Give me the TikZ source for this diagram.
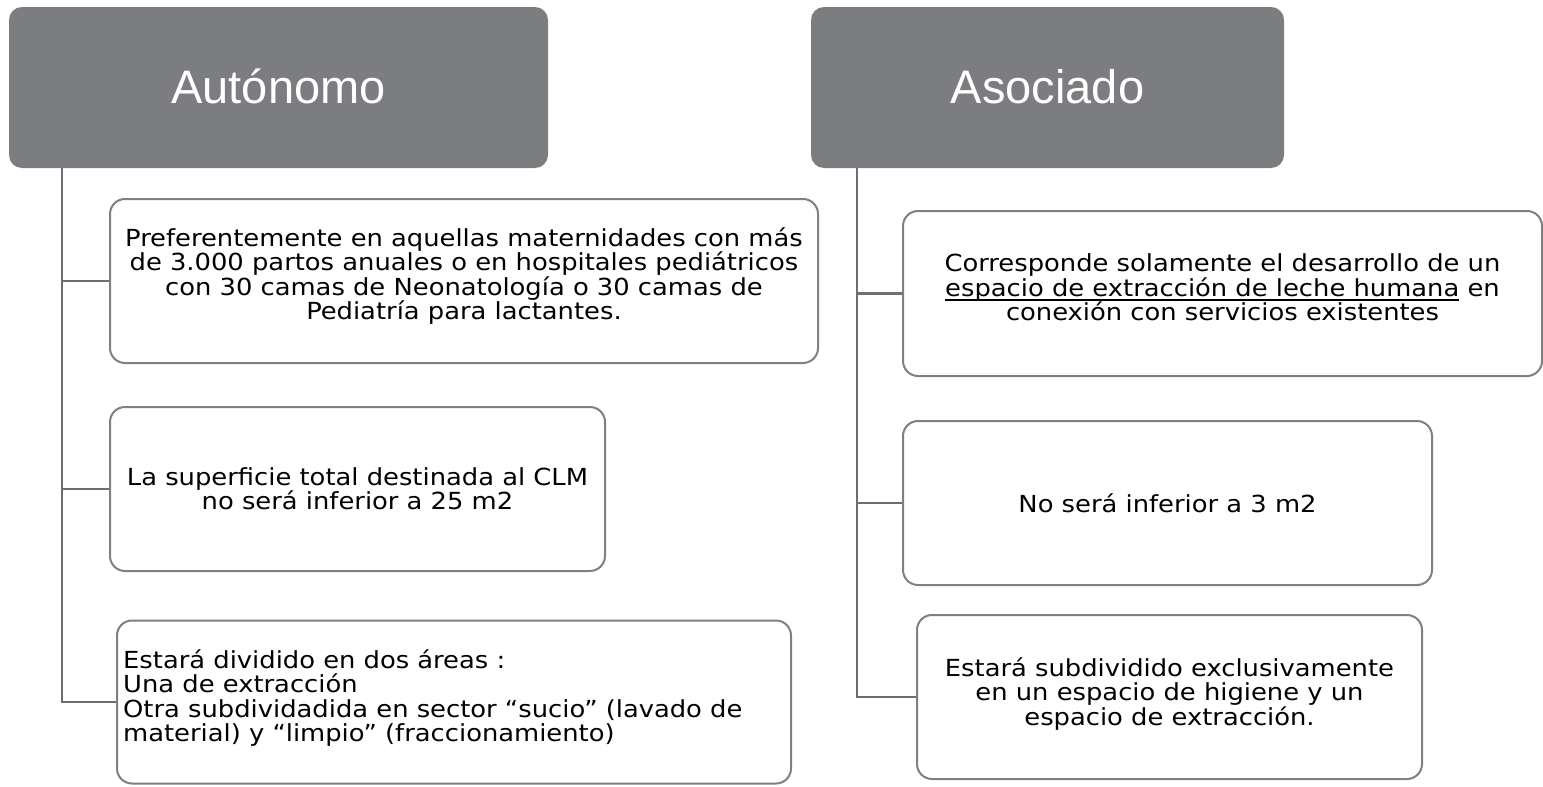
\documentclass[tikz,border=0pt]{standalone}
\usepackage{fontspec}
\setmainfont{DejaVu Sans Condensed}[FakeStretch=1.22]
\newfontfamily\headfont{Liberation Sans}
\definecolor{hdr}{HTML}{7C7D81}
\definecolor{bord}{HTML}{808080}
\definecolor{conn}{HTML}{6D6E71}
\newcommand\tightlines{\lineskiplimit=-30pt\relax}
\newcommand\myul[1]{\setbox0\hbox{#1}\rlap{\vrule height -3pt depth 4.3pt width \wd0}\box0\relax}
\begin{document}
\begin{tikzpicture}[x=1pt,y=-1pt,
  header/.style={draw=none,fill=hdr,rounded corners=13pt,inner sep=0pt},
  headtext/.style={text=white,font=\headfont\fontsize{47}{56}\selectfont,inner sep=0pt},
  itembox/.style={draw=bord,line width=2pt,fill=white,rounded corners=15pt,inner sep=0pt},
  boxtext/.style={inner sep=0pt,align=center,
    font=\fontsize{23.5}{24.3}\selectfont\tightlines},
  link/.style={draw=conn,line width=2.6pt}]
\useasboundingbox (0,0) rectangle (1543,787);
% headers
\node[header,minimum width=539pt,minimum height=161pt] (hL) at (278.5,87.5) {};
\node[headtext] (tAL) at ([yshift=1pt]hL.center) {Autónomo};
\node[header,minimum width=473pt,minimum height=161pt] (hR) at (1047.5,87.5) {};
\node[headtext] (tAR) at ([yshift=1pt]hR.center) {Asociado};
% left boxes
\node[itembox,minimum width=708pt,minimum height=164pt] (L1) at (464,281) {};
\node[boxtext] (L1t) at ([yshift=5pt]L1.center)
 {Preferentemente en aquellas maternidades con más\\de 3.000 partos anuales o en hospitales pediátricos\\con 30 camas de Neonatología o 30 camas de\\Pediatría para lactantes.};
\node[itembox,minimum width=495pt,minimum height=164pt] (L2) at (357.5,489) {};
\node[boxtext] (L2t) at (L2.center)
 {La superficie total destinada al CLM\\no será inferior a 25 m2};
\node[itembox,minimum width=674pt,minimum height=163pt] (L3) at (454,702) {};
\node[boxtext,align=left,anchor=west] (L3t) at ([xshift=7pt,yshift=4pt]L3.west)
 {Estará dividido en dos áreas :\\Una de extracción\\Otra subdividadida en sector “sucio” (lavado de\\material) y “limpio” (fraccionamiento)};
% right boxes
\node[itembox,minimum width=639pt,minimum height=165pt] (R1) at (1222.5,293.5) {};
\node[boxtext] (R1t) at ([yshift=6pt]R1.center)
 {Corresponde solamente el desarrollo de un\\\myul{espacio de extracción de leche humana} en\\conexión con servicios existentes};
\node[itembox,minimum width=529pt,minimum height=164pt] (R2) at (1167.5,503) {};
\node[boxtext] (R2t) at (R2.center) {No será inferior a 3 m2};
\node[itembox,minimum width=505pt,minimum height=164pt] (R3) at (1169.5,697) {};
\node[boxtext] (R3t) at ([yshift=3pt]R3.center)
 {Estará subdividido exclusivamente\\en un espacio de higiene y un\\espacio de extracción.};
% connectors
\coordinate (tL) at (62,168);
\coordinate (tR) at (857,168);
\draw[link] (tL) |- (L3.west);
\draw[link] (L1.west -| tL) -- (L1.west);
\draw[link] (L2.west -| tL) -- (L2.west);
\draw[link] (tR) |- (R3.west);
\draw[link] (R1.west -| tR) -- (R1.west);
\draw[link] (R2.west -| tR) -- (R2.west);
\end{tikzpicture}
\end{document}
